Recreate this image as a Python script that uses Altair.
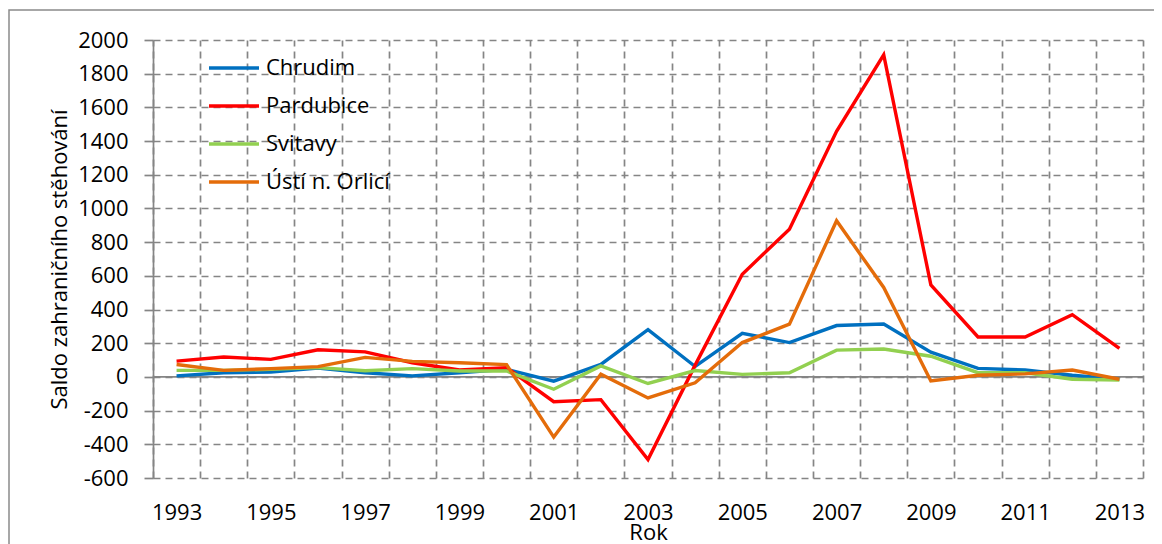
import altair as alt
import pandas as pd

years = list(range(1993, 2014))
series_names = ["Chrudim", "Pardubice", "Svitavy", "Ústí n. Orlicí"]
series_colors = ["#0070C0", "#FF0000", "#92D050", "#E46C0A"]

chrudim = [6, 25, 29, 53, 25, 6, 25, 45, -25, 74, 280, 62, 259, 204, 305, 314, 147, 51, 41, 10, -14]
pardubice = [94, 118, 104, 161, 149, 84, 41, 55, -147, -135, -490, 70, 610, 877, 1458, 1912, 546, 237, 237, 370, 169]
svitavy = [39, 39, 45, 55, 37, 49, 35, 35, -73, 65, -39, 38, 15, 25, 159, 166, 123, 25, 25, -14, -18]
usti = [74, 39, 49, 61, 116, 92, 84, 73, -357, 16, -125, -35, 204, 313, 927, 531, -24, 10, 18, 41, -14]

y_ticks = list(range(-600, 2001, 200))
x_label_years = years[::2]

rows = []
for name, vals in zip(series_names, [chrudim, pardubice, svitavy, usti]):
    for yr, v in zip(years, vals):
        rows.append({"Rok": yr, "Okres": name, "Saldo": v})
df = pd.DataFrame(rows)

boundaries = [y - 0.5 for y in years] + [years[-1] + 0.5]

FONT = "Open Sans"
GRID = "#858585"
DASH = [7, 5]
GW = 1.7
x_scale = alt.Scale(domain=[years[0] - 0.5, years[-1] + 0.5], nice=False, zero=False)


def y_enc():
    return alt.Y(
        "Saldo:Q",
        title="Saldo zahraničního stěhování",
        scale=alt.Scale(domain=[-600, 2000], nice=False),
        axis=alt.Axis(
            values=y_ticks,
            labelExpr="'' + datum.value",
            labelOverlap=False,
            labelFlush=False,
            grid=True,
            gridColor=GRID,
            gridDash=DASH,
            gridWidth=GW,
            domain=True,
            domainColor=GRID,
            domainWidth=1.7,
            ticks=True,
            tickColor=GRID,
            tickWidth=1.7,
            tickSize=9,
            labelPadding=16,
            titlePadding=6,
        ),
    )


frame = alt.Chart(pd.DataFrame({"a": [0]})).mark_rect(
    fill=None, stroke="#8a8a8a", strokeWidth=1.5
).encode(
    x=alt.value(-144), x2=alt.value(1300), y=alt.value(-30), y2=alt.value(700)
)

zero = alt.Chart(pd.DataFrame({"Saldo": [0]})).mark_rule(color=GRID, strokeWidth=1.7).encode(
    y=y_enc()
)

grid_layer = alt.Chart(pd.DataFrame({"b": boundaries})).mark_point(opacity=0).encode(
    x=alt.X(
        "b:Q",
        scale=x_scale,
        axis=alt.Axis(
            orient="bottom",
            values=boundaries,
            labels=False,
            ticks=False,
            domain=False,
            title=None,
            grid=True,
            gridColor=GRID,
            gridDash=DASH,
            gridWidth=GW,
        ),
    )
)

lines = alt.Chart(df).mark_line(strokeWidth=3.4).encode(
    x=alt.X(
        "Rok:Q",
        title="Rok",
        scale=x_scale,
        axis=alt.Axis(
            orient="bottom",
            values=x_label_years,
            format="d",
            labelOverlap=False,
            labelFlush=False,
            ticks=False,
            domain=False,
            grid=False,
            labelPadding=24,
            titlePadding=-1,
        ),
    ),
    y=y_enc(),
    color=alt.Color(
        "Okres:N",
        scale=alt.Scale(domain=series_names, range=series_colors),
        legend=alt.Legend(
            title=None,
            orient="none",
            legendX=54,
            legendY=1,
            symbolType="stroke",
            symbolSize=2500,
            symbolStrokeWidth=3.5,
            labelFontSize=22,
            labelOffset=5,
            rowPadding=-1,
            padding=0,
            labelColor="#000000",
            labelFont=FONT,
        ),
    ),
)

chart = (
    alt.layer(frame, zero, grid_layer, lines)
    .resolve_axis(x="independent")
    .properties(
        width=990,
        height=438,
        autosize=alt.AutoSizeParams(type="none"),
        padding={"left": 145, "top": 32, "right": 11, "bottom": 66},
    )
    .configure_view(stroke=None)
    .configure_axis(
        labelFont=FONT,
        titleFont=FONT,
        labelFontSize=22,
        titleFontSize=22,
        labelColor="#000000",
        titleColor="#000000",
        titleFontWeight="normal",
    )
)

chart.save("out.html", embed_options={"renderer": "svg", "actions": False})
